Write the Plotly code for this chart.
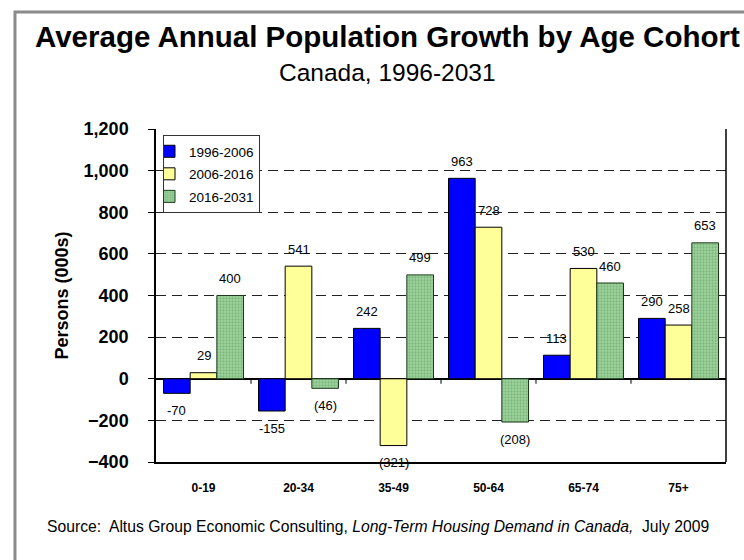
import plotly.graph_objects as go

# Age cohorts and average annual growth (thousands of persons)
cohorts = ["0-19", "20-34", "35-49", "50-64", "65-74", "75+"]
periods = ["1996-2006", "2006-2016", "2016-2031"]
growth_1996_2006 = [-70, -155, 242, 963, 113, 290]
growth_2006_2016 = [29, 541, -321, 728, 530, 258]
growth_2016_2031 = [400, -46, 499, -208, 460, 653]
y_ticks = [-400, -200, 0, 200, 400, 600, 800, 1000, 1200]

FONT = "Liberation Sans, Arial, sans-serif"
BARGAP = 0.158

series = [growth_1996_2006, growth_2006_2016, growth_2016_2031]
# first period shows negatives with a minus sign, later ones in parentheses
neg_style = ["minus", "paren", "paren"]

fig = go.Figure()

fig.add_trace(go.Bar(
    name=periods[0], x=cohorts, y=growth_1996_2006, legendgroup="a",
    marker=dict(color="#0000FF", line=dict(color="#000000", width=1)),
))
fig.add_trace(go.Bar(
    name=periods[1], x=cohorts, y=growth_2006_2016, legendgroup="b",
    marker=dict(color="#FFFF99", line=dict(color="#000000", width=1)),
))
fig.add_trace(go.Bar(
    name=periods[2], x=cohorts, y=growth_2016_2031, legendgroup="c",
    marker=dict(color="#8CC68C", line=dict(color="#1d3a1d", width=1),
                pattern=dict(shape=".", fgcolor="#5c9c5c", bgcolor="#9fd49f",
                             size=3, solidity=0.45)),
))

# value labels placed just beyond each bar end
bar_w = (1 - BARGAP) / len(series)
annotations = []
for k, vals in enumerate(series):
    for i, v in enumerate(vals):
        if v >= 0:
            txt = f"{v}"
        elif neg_style[k] == "minus":
            txt = f"{v}"
        else:
            txt = f"({abs(v)})"
        annotations.append(dict(
            x=i + (k - 1) * bar_w, y=v, xref="x", yref="y",
            text=txt, showarrow=False,
            yshift=17 if v >= 0 else -17,
            font=dict(family=FONT, size=13, color="#000000"),
        ))

# titles and source note
annotations += [
    dict(x=0.407, y=1.278, xref="paper", yref="paper", showarrow=False,
         text="<b>Average Annual Population Growth by Age Cohort</b>",
         font=dict(family=FONT, size=29.5, color="#000000"), yanchor="middle"),
    dict(x=0.407, y=1.171, xref="paper", yref="paper", showarrow=False,
         text="Canada, 1996-2031",
         font=dict(family=FONT, size=24.5, color="#000000"), yanchor="middle"),
    dict(x=-0.1947, y=-0.195, xref="paper", yref="paper", showarrow=False,
         xanchor="left", yanchor="middle",
         text="Source:  Altus Group Economic Consulting, "
              "<i>Long-Term Housing Demand in Canada,</i>  July 2009",
         font=dict(family=FONT, size=15.7, color="#000000")),
]

shapes = [
    # outer frame
    dict(type="rect", xref="paper", yref="paper", x0=-0.2474, y0=-0.6,
         x1=1.3, y1=1.3514, line=dict(color="#8a8a8a", width=3), layer="below"),
    # right border of the plot area
    dict(type="line", xref="paper", yref="paper", x0=1, x1=1, y0=0, y1=1,
         line=dict(color="#000000", width=1.5)),
]
# category separators on the zero line
for i in range(1, len(cohorts)):
    shapes.append(dict(type="line", xref="x", yref="y", x0=i - 0.5, x1=i - 0.5,
                       ysizemode="pixel", yanchor=0, y0=0, y1=-5,
                       line=dict(color="#000000", width=1)))

fig.update_layout(
    width=744, height=560,
    margin=dict(l=156, r=18, t=129, b=98),
    paper_bgcolor="#FFFFFF", plot_bgcolor="#FFFFFF",
    barmode="group", bargap=BARGAP, bargroupgap=0,
    showlegend=True,
    legend=dict(
        x=0.0123, y=0.982, xanchor="left", yanchor="top",
        bgcolor="#FFFFFF", bordercolor="#333333", borderwidth=1,
        font=dict(family=FONT, size=13.5, color="#000000"),
        traceorder="grouped", tracegroupgap=2, itemwidth=30,
        indentation=-15,
    ),
    annotations=annotations,
    shapes=shapes,
    font=dict(family=FONT, color="#000000"),
)

fig.update_xaxes(
    type="category", showline=True, linecolor="#000000", linewidth=1.5,
    ticks="", showgrid=False, ticklabelstandoff=14,
    tickfont=dict(family=FONT, size=12, color="#000000", weight="bold"),
)
fig.update_yaxes(
    range=[-400, 1200], tickvals=y_ticks, tickformat=",",
    showline=True, linecolor="#000000", linewidth=1.5,
    ticks="outside", ticklen=6, tickcolor="#000000",
    showgrid=True, gridcolor="#222222", gridwidth=1, griddash="10px,6px",
    zeroline=True, zerolinecolor="#000000", zerolinewidth=1.5,
    ticklabelstandoff=16,
    tickfont=dict(family=FONT, size=18, color="#000000", weight="bold"),
    title=dict(text="Persons (000s)", standoff=10,
               font=dict(family=FONT, size=18, color="#000000", weight="bold")),
)

fig.write_html("out.html")
